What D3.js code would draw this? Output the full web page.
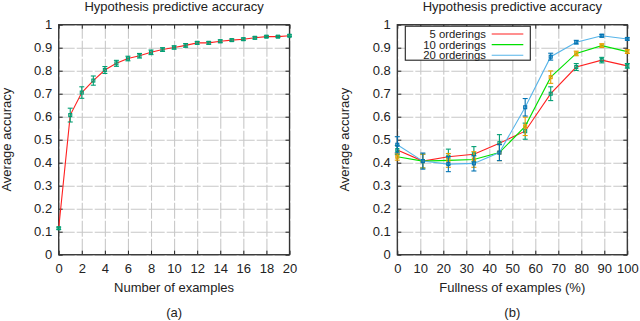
<!DOCTYPE html>
<html>
<head>
<meta charset="utf-8">
<script src="https://cdn.jsdelivr.net/npm/d3@7"></script>
<style>
  body { margin: 0; background: #fff; }
  svg { display: block; font-family: "Liberation Sans", Arial, sans-serif; }
</style>
</head>
<body>
<script>
// panel (a): accuracy vs number of examples
const numExamples = [0, 1, 2, 3, 4, 5, 6, 7, 8, 9, 10, 11, 12, 13, 14, 15, 16, 17, 18, 19, 20];
const numAcc = [0.115, 0.607, 0.705, 0.757, 0.803, 0.832, 0.853, 0.865, 0.88, 0.892, 0.901,
                0.91, 0.921, 0.921, 0.928, 0.933, 0.937, 0.943, 0.948, 0.948, 0.952];
const numErr = [0.005, 0.03, 0.025, 0.02, 0.015, 0.013, 0.01, 0.01, 0.01, 0.008, 0.007,
                0.008, 0.006, 0.006, 0.006, 0.005, 0.005, 0.005, 0.004, 0.004, 0.004];

// panel (b): accuracy vs fullness, three orderings
const fullness = [0, 11.1, 22.2, 33.3, 44.4, 55.6, 66.7, 77.8, 88.9, 100];
const acc5  = [0.455, 0.407, 0.426, 0.437, 0.485, 0.537, 0.700, 0.816, 0.846, 0.821];
const err5  = [0.02, 0.03, 0.033, 0.033, 0.037, 0.035, 0.03, 0.015, 0.012, 0.01];
const acc10 = [0.426, 0.407, 0.410, 0.414, 0.444, 0.558, 0.772, 0.875, 0.909, 0.883];
const err10 = [0.015, 0.03, 0.03, 0.034, 0.035, 0.04, 0.027, 0.01, 0.008, 0.008];
const acc20 = [0.478, 0.407, 0.394, 0.397, 0.444, 0.641, 0.861, 0.924, 0.952, 0.938];
const err20 = [0.035, 0.035, 0.033, 0.033, 0.035, 0.038, 0.015, 0.008, 0.006, 0.005];
const seriesNames = ["5 orderings", "10 orderings", "20 orderings"];

const yTicks = [0, 0.1, 0.2, 0.3, 0.4, 0.5, 0.6, 0.7, 0.8, 0.9, 1];
const xTicksA = [0, 2, 4, 6, 8, 10, 12, 14, 16, 18, 20];
const xTicksB = [0, 10, 20, 30, 40, 50, 60, 70, 80, 90, 100];

const width = 640, height = 321;
const plotTop = 24.7, plotBottom = 254.7;

const svg = d3.select("body").append("svg")
    .attr("width", width)
    .attr("height", height)
    .attr("viewBox", [0, 0, width, height]);

const y = d3.scaleLinear().domain([0, 1]).range([plotBottom, plotTop]);

function panel(x0, x1, domain, xTicks, xLabel, tag, ylabX) {
  const x = d3.scaleLinear().domain(domain).range([x0, x1]);
  const g = svg.append("g");

  // grid
  const grid = s => {
    s.select(".domain").remove();
    s.selectAll("line").attr("stroke", "#c8c8c8").attr("stroke-width", 1.1)
      .attr("stroke-dasharray", "16,2");
  };
  g.append("g")
      .attr("transform", `translate(0,${plotBottom})`)
      .call(d3.axisBottom(x).tickValues(xTicks).tickSize(-(plotBottom - plotTop)).tickFormat(""))
      .call(grid);
  g.append("g")
      .attr("transform", `translate(${x0},0)`)
      .call(d3.axisLeft(y).tickValues(yTicks).tickSize(-(x1 - x0)).tickFormat(""))
      .call(grid);

  // axes with inward ticks, mirrored
  const style = s => {
    s.select(".domain").remove();
    s.selectAll("line").attr("stroke", "#222");
    s.selectAll("text").attr("font-size", 13).attr("fill", "#222")
      .attr("font-family", "Liberation Sans, Arial, sans-serif");
  };
  g.append("g")
      .attr("transform", `translate(0,${plotBottom})`)
      .call(d3.axisBottom(x).tickValues(xTicks).tickSize(-4).tickPadding(9.5).tickFormat(d3.format("d")))
      .call(style);
  g.append("g")
      .attr("transform", `translate(0,${plotTop})`)
      .call(d3.axisTop(x).tickValues(xTicks).tickSize(-4).tickFormat(""))
      .call(style);
  g.append("g")
      .attr("transform", `translate(${x0},0)`)
      .call(d3.axisLeft(y).tickValues(yTicks).tickSize(-4).tickPadding(6.5).tickFormat(d => d === 0 || d === 1 ? d : d.toFixed(1)))
      .call(style);
  g.append("g")
      .attr("transform", `translate(${x1},0)`)
      .call(d3.axisRight(y).tickValues(yTicks).tickSize(-4).tickFormat(""))
      .call(style);

  g.append("rect")
      .attr("x", x0).attr("y", plotTop)
      .attr("width", x1 - x0).attr("height", plotBottom - plotTop)
      .attr("fill", "none").attr("stroke", "#333").attr("stroke-width", 1.3);

  const cx = (x0 + x1) / 2;
  g.append("text").attr("x", cx).attr("y", 11).attr("text-anchor", "middle")
      .attr("font-size", 13).attr("fill", "#222").text("Hypothesis predictive accuracy");
  g.append("text").attr("x", cx).attr("y", 291.5).attr("text-anchor", "middle")
      .attr("font-size", 13).attr("fill", "#222").text(xLabel);
  g.append("text").attr("x", cx).attr("y", 317).attr("text-anchor", "middle")
      .attr("font-size", 13).attr("fill", "#222").text(tag);
  g.append("text")
      .attr("transform", `translate(${ylabX},${(plotTop + plotBottom) / 2}) rotate(-90)`)
      .attr("text-anchor", "middle")
      .attr("font-size", 13).attr("fill", "#222").text("Average accuracy");

  return {g, x};
}

function series(p, xs, vals, errs, lineColor, barColor) {
  const pts = xs.map((d, i) => ({x: d, v: vals[i], e: errs[i]}));
  p.g.append("path")
      .datum(pts)
      .attr("fill", "none")
      .attr("stroke", lineColor)
      .attr("stroke-width", 1.1)
      .attr("d", d3.line().x(d => p.x(d.x)).y(d => y(d.v)));
  const bars = p.g.append("g")
      .attr("stroke", barColor)
      .attr("stroke-width", 1.1)
      .attr("fill", "none")
    .selectAll("g")
    .data(pts)
    .join("g");
  bars.append("line")
      .attr("x1", d => p.x(d.x)).attr("x2", d => p.x(d.x))
      .attr("y1", d => y(d.v - d.e)).attr("y2", d => y(d.v + d.e));
  bars.append("line")
      .attr("x1", d => p.x(d.x) - 2.5).attr("x2", d => p.x(d.x) + 2.5)
      .attr("y1", d => y(d.v - d.e)).attr("y2", d => y(d.v - d.e));
  bars.append("line")
      .attr("x1", d => p.x(d.x) - 2.5).attr("x2", d => p.x(d.x) + 2.5)
      .attr("y1", d => y(d.v + d.e)).attr("y2", d => y(d.v + d.e));
  bars.append("rect")
      .attr("x", d => p.x(d.x) - 1.5).attr("y", d => y(d.v) - 1.5)
      .attr("width", 3).attr("height", 3);
}

// panel (a)
const pa = panel(58.7, 289.5, [0, 20], xTicksA, "Number of examples", "(a)", 10.7);
series(pa, numExamples, numAcc, numErr, "#ff2020", "#009e73");

// panel (b)
const pb = panel(397.3, 627.3, [0, 100], xTicksB, "Fullness of examples (%)", "(b)", 349.3);
const lineColors = ["#ff2020", "#00e000", "#56b4e9"];
const barColors = ["#009e73", "#e69f00", "#0072b2"];
series(pb, fullness, acc5, err5, lineColors[0], barColors[0]);
series(pb, fullness, acc10, err10, lineColors[1], barColors[1]);
series(pb, fullness, acc20, err20, lineColors[2], barColors[2]);

// legend
const lg = svg.append("g");
lg.append("rect")
    .attr("x", 405.3).attr("y", 26.2).attr("width", 125).attr("height", 34)
    .attr("fill", "#fff").attr("stroke", "#222").attr("stroke-width", 1.1);
seriesNames.forEach((name, i) => {
  const ly = 34 + i * 10.65;
  lg.append("text").attr("x", 486).attr("y", ly + 4).attr("text-anchor", "end")
      .attr("font-size", 11.3).attr("fill", "#222").text(name);
  lg.append("line").attr("x1", 491.7).attr("x2", 523.3).attr("y1", ly).attr("y2", ly)
      .attr("stroke", lineColors[i]).attr("stroke-width", 1.1);
});
</script>
</body>
</html>
